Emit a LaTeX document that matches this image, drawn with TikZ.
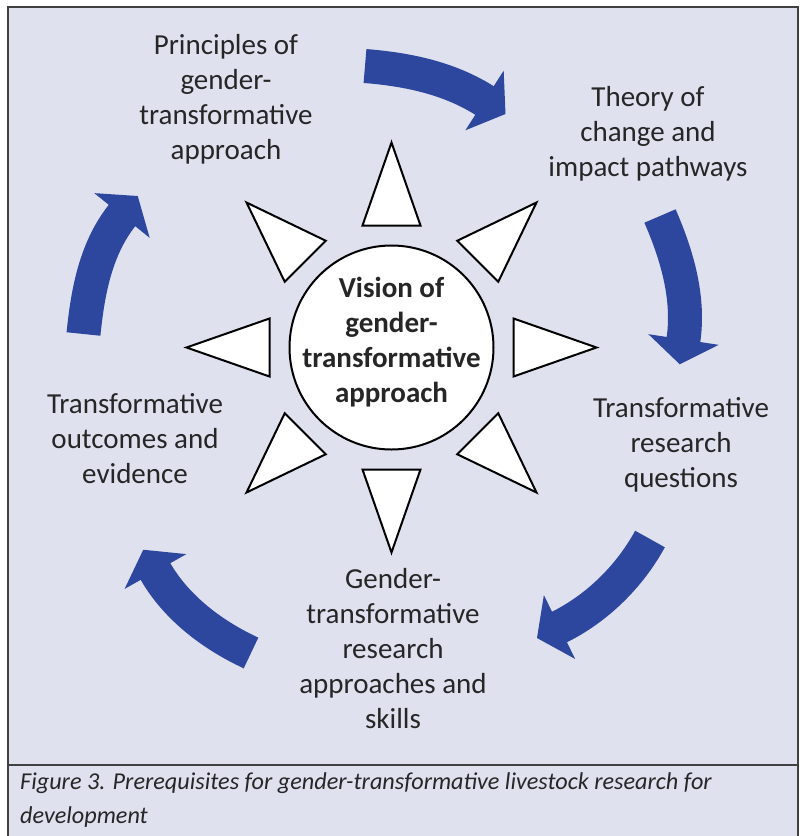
\documentclass[tikz,border=0pt]{standalone}
\usepackage{fontspec}
\setmainfont{Carlito}
\usetikzlibrary{calc}
\definecolor{panelbg}{RGB}{223,225,239}
\definecolor{framegray}{RGB}{64,64,64}
\definecolor{arrowblue}{RGB}{44,71,157}
\definecolor{textgray}{RGB}{38,38,38}
% #1,#2 tail centre; #3,#4 tail direction; #5,#6 head base centre; #7,#8 head direction; #9 control length
\newcommand{\cyclearrow}[9]{%
  \draw[arrowbody] (#1,#2) .. controls ($(#1,#2)+#9*(#3,#4)$) and ($(#5,#6)-#9*(#7,#8)$) .. ($(#5,#6)+1.5*(#7,#8)$);
  \fill[arrowblue] ($(#5,#6)+35.5*({-1*(#8)},{#7})$) -- ($(#5,#6)+25*(#7,#8)$) -- ($(#5,#6)-35.5*({-1*(#8)},{#7})$) -- cycle;
}
\begin{document}
\begin{tikzpicture}[x=1pt,y=-1pt,
  arrowbody/.style={draw=arrowblue, line width=34pt, line cap=butt},
  lbl/.style={font=\fontsize{29}{35}\selectfont, text=textgray, align=center, inner sep=0pt},
  ray/.style={draw=black, fill=white, line width=2pt, line join=miter},
]
\useasboundingbox (0,0) rectangle (800,836);
\fill[white] (0,0) rectangle (800,836);
\path[fill=panelbg, draw=framegray, line width=1.5pt] (8,7) rectangle (798,850);
\draw[framegray, line width=1.5pt] (8,765) -- (798,765);

% centre
\coordinate (c) at (391.5,347.5);
\foreach \a in {0,45,...,315}{
  \path[ray] ($(c)+(\a:205)$) -- ($(c)+(\a:122)+(\a+90:29)$) -- ($(c)+(\a:122)+(\a-90:29)$) -- cycle;
}
\node[circle, draw=black, fill=white, line width=2pt, minimum size=204pt, inner sep=0pt] (vision) at (c) {};
\node[lbl, font=\fontsize{29}{35}\selectfont\bfseries, anchor=base] (visiontext) at (391.5,402) {Vision of\\gender-\\transformative\\approach};

% labels (anchor = baseline of the last line)
\node[lbl, anchor=base] (principles) at (226,159) {Principles of\\gender-\\transformative\\approach};
\node[lbl, anchor=base] (theory) at (648,176) {Theory of\\change and\\impact pathways};
\node[lbl, anchor=base] (questions) at (681,487) {Transformative\\research\\questions};
\node[lbl, anchor=base] (skills) at (393,728) {Gender-\\transformative\\research\\approaches and\\skills};
\node[lbl, anchor=base] (outcomes) at (135,483) {Transformative\\outcomes and\\evidence};

% cycle arrows
\cyclearrow{365}{66}{0.997}{0.08}{484.5}{100.5}{0.84}{0.54}{42}
\cyclearrow{660}{216}{0.40}{0.92}{683.5}{339.5}{-0.15}{0.99}{42}
\cyclearrow{650}{539}{-0.48}{0.88}{559.5}{627}{-0.9}{0.44}{42}
\cyclearrow{251}{653}{-0.9}{-0.42}{155.5}{571.5}{-0.49}{-0.87}{42}
\cyclearrow{83.5}{334}{0.1}{-0.995}{122}{215.5}{0.63}{-0.78}{42}

% caption
\node[font=\fontsize{24.2}{34}\selectfont\itshape, text=textgray, anchor=base west, align=left, inner sep=0pt] (caption) at (20,823) {Figure 3. Prerequisites for gender-transformative livestock research for\\development};
\end{tikzpicture}
\end{document}
